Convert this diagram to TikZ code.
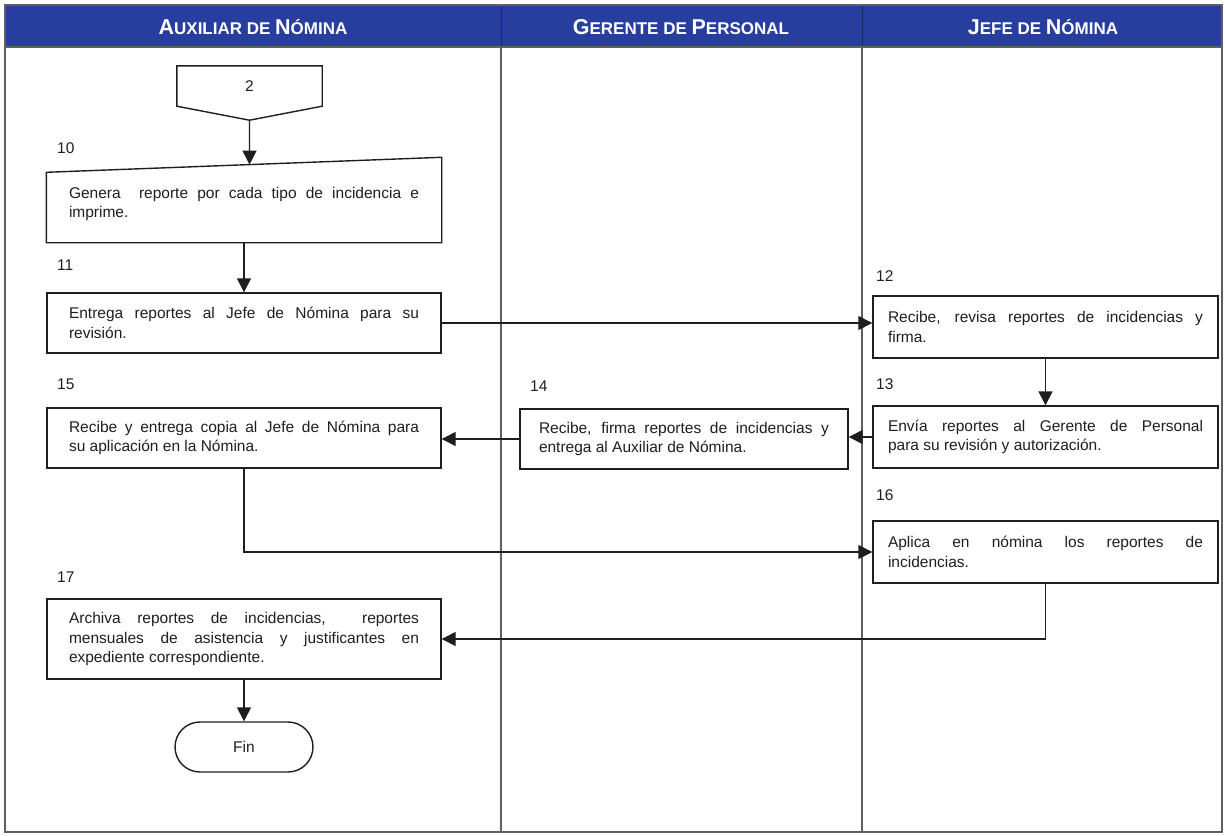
\documentclass[tikz,border=0pt]{standalone}
\usepackage{fontspec}
\setmainfont{Liberation Sans}
\usetikzlibrary{arrows.meta,calc}
\definecolor{hdrblue}{RGB}{40,62,158}
\definecolor{lanegray}{RGB}{95,95,95}
\definecolor{ink}{RGB}{30,30,30}
% fake small caps for the lane titles
\newcommand\hcap[2]{{\fontsize{21.5}{22}\selectfont #1}{\fontsize{17}{22}\selectfont #2}}

\begin{document}
\tolerance=10000
\hyphenpenalty=10000
\begin{tikzpicture}[x=1pt,y=-1pt,
  every node/.style={font=\fontsize{15.5}{19.5}\selectfont, text=ink},
  proc/.style={draw=ink, line width=1.4pt, align=justify, inner ysep=0pt, anchor=center},
  leftbox/.style={proc, text width=350pt, inner xsep=22pt, minimum height=#1},
  leftbox/.default=60pt,
  rightbox/.style={proc, text width=315pt, inner xsep=15pt, minimum height=#1},
  rightbox/.default=60pt,
  midbox/.style={proc, text width=290pt, inner xsep=19pt, minimum height=#1},
  midbox/.default=60pt,
  flow/.style={draw=ink, line width=1.4pt, -{Triangle[length=14pt,width=14pt]}},
  stepnum/.style={anchor=west, inner sep=0pt},
  lanetitle/.style={text=white, font=\fontsize{17}{22}\selectfont\bfseries, inner sep=0pt},
]
\useasboundingbox (0,0) rectangle (1225,835);

% swimlane frame and header band
\fill[hdrblue] (5,5) rectangle (1222,47);
\draw[hdrblue!60!black, line width=0.8pt] (501,5) -- (501,47) (862,5) -- (862,47);
\draw[lanegray, line width=1.5pt] (5,5) rectangle (1222,832);
\draw[lanegray, line width=1.5pt] (501,47) -- (501,832) (862,47) -- (862,832);
\draw[lanegray, line width=1.2pt] (5,47) -- (1222,47);

\node[lanetitle] (hA) at (253,27) {\hcap{A}{UXILIAR DE }\hcap{N}{ÓMINA}};
\node[lanetitle] (hG) at (681,27) {\hcap{G}{ERENTE DE }\hcap{P}{ERSONAL}};
\node[lanetitle] (hJ) at (1043,27) {\hcap{J}{EFE DE }\hcap{N}{ÓMINA}};

% off-page connector
\node[minimum width=145pt, minimum height=40pt, inner sep=0pt] (c2) at (249.5,86) {2};
\coordinate (c2tip) at ($(c2.south)+(0,14)$);
\draw[ink, line width=1.4pt] (c2.north west) -- (c2.north east) -- (c2.south east)
  -- (c2tip) -- (c2.south west) -- cycle;

% step 10: manual input shape
\node[proc, draw=none, text width=350pt, inner xsep=22pt, minimum height=76pt] (gen) at (244,204)
  {Genera \ reporte por cada tipo de incidencia e\linebreak imprime.};
\coordinate (gtl) at ($(gen.north west)+(0,7)$);
\coordinate (gtr) at ($(gen.north east)+(0,-8)$);
\coordinate (genin) at ($(gtl)!0.514!(gtr)$);
\draw[ink, line width=1.4pt] (gen.south west) -- (gen.south east) -- (gtr) -- (gtl) -- cycle;

\node[leftbox] (b11) at (244,323)
  {Entrega reportes al Jefe de Nómina para su\linebreak revisión.};
\node[rightbox=62pt] (b12) at (1045.5,327)
  {Recibe, revisa reportes de incidencias y\linebreak firma.};
\node[rightbox=62pt] (b13) at (1045.5,437)
  {Envía reportes al Gerente de Personal\linebreak para su revisión y autorización.};
\node[midbox] (b14) at (684,439)
  {Recibe, firma reportes de incidencias y\linebreak entrega al Auxiliar de Nómina.};
\node[leftbox] (b15) at (244,438)
  {Recibe y entrega copia al Jefe de Nómina para\linebreak su aplicación en la Nómina.};
\node[rightbox=62pt] (b16) at (1045.5,552)
  {Aplica en nómina los reportes de\linebreak incidencias.};
\node[leftbox=80pt] (b17) at (244,639)
  {Archiva reportes de incidencias, \ reportes\linebreak mensuales de asistencia y justificantes en\linebreak expediente correspondiente.};
\node[draw=ink, line width=1.4pt, rounded corners=25pt, minimum width=138pt,
  minimum height=50pt] (fin) at (244,747) {Fin};

% step numbers
\node[stepnum] (n10) at (57,148) {10};
\node[stepnum] (n11) at (57,265) {11};
\node[stepnum] (n12) at (876,276) {12};
\node[stepnum] (n13) at (876,384) {13};
\node[stepnum] (n14) at (530,386) {14};
\node[stepnum] (n15) at (57,384) {15};
\node[stepnum] (n16) at (876,495) {16};
\node[stepnum] (n17) at (57,577) {17};

% flow connectors
\draw[flow] (c2tip) -- (genin);
\draw[flow] (gen.south) -- (b11.north);
\draw[flow] (b11.east) -- (b11.east -| b12.west);
\draw[flow] (b12.south) -- (b13.north);
\draw[flow] (b13.west) -- (b13.west -| b14.east);
\draw[flow] (b14.west) -- (b14.west -| b15.east);
\draw[flow] (b15.south) |- (b16.west);
\draw[flow] (b16.south) |- (b17.east);
\draw[flow] (b17.south) -- (fin.north);
\end{tikzpicture}
\end{document}
